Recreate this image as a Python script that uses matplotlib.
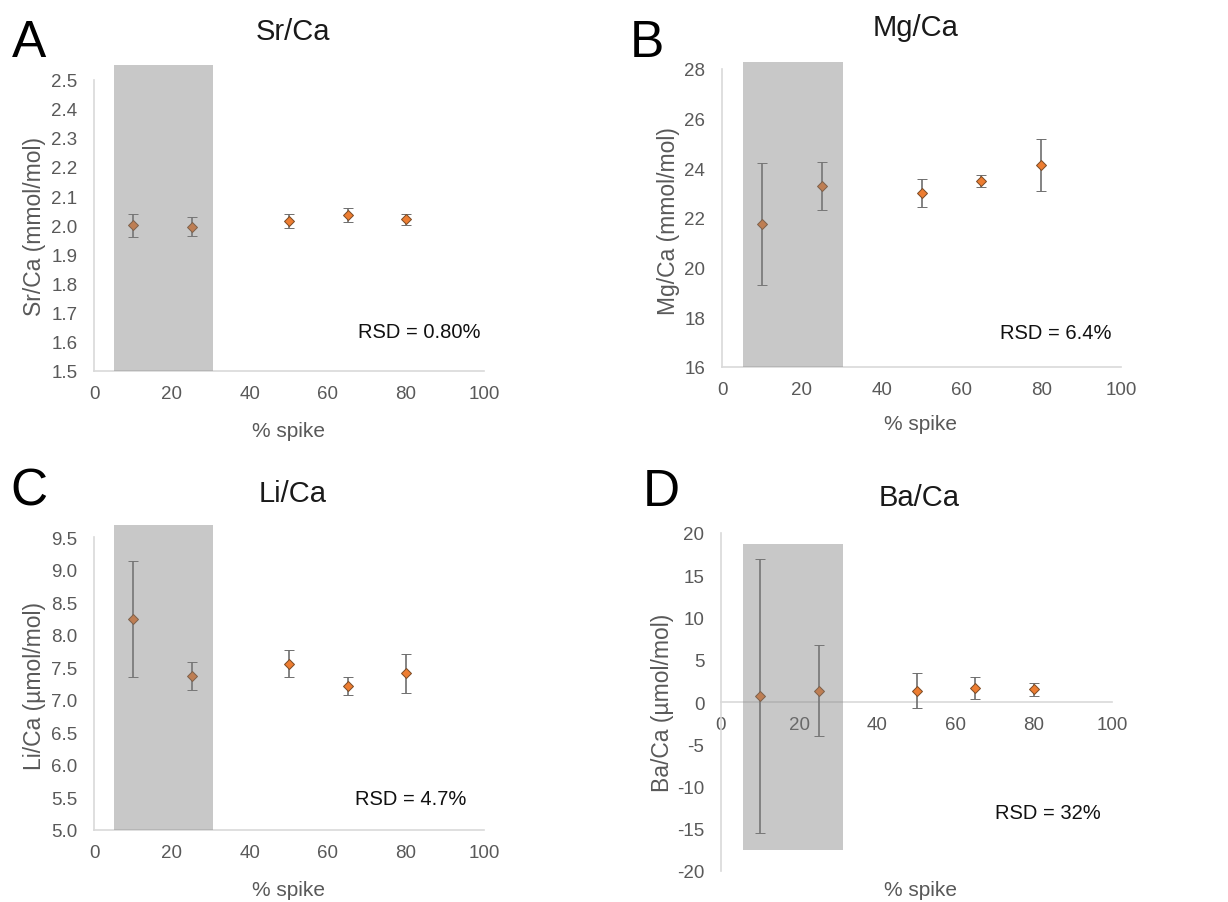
import matplotlib
matplotlib.use('Agg')
import matplotlib.pyplot as plt
from matplotlib.patches import Rectangle

plt.rcParams['font.family'] = ['Liberation Sans', 'DejaVu Sans']
plt.rcParams['axes.unicode_minus'] = False

W, H = 1228, 903

# data
spike = [10, 25, 50, 65, 80]

sr_ca = [2.000, 1.995, 2.015, 2.035, 2.020]
sr_err = [0.040, 0.032, 0.025, 0.025, 0.020]

mg_ca = [21.75, 23.30, 23.00, 23.50, 24.13]
mg_err = [2.45, 0.97, 0.55, 0.25, 1.03]

li_ca = [8.25, 7.37, 7.56, 7.21, 7.41]
li_err = [0.89, 0.21, 0.21, 0.14, 0.30]

ba_ca = [0.75, 1.34, 1.34, 1.66, 1.50]
ba_err = [16.2, 5.35, 2.10, 1.30, 0.80]

rsd_labels = ['RSD = 0.80%', 'RSD = 6.4%', 'RSD = 4.7%', 'RSD = 32%']
titles = ['Sr/Ca', 'Mg/Ca', 'Li/Ca', 'Ba/Ca']
ylabels = ['Sr/Ca (mmol/mol)', 'Mg/Ca (mmol/mol)', 'Li/Ca (µmol/mol)', 'Ba/Ca (µmol/mol)']
letters = ['A', 'B', 'C', 'D']

TICK_C = '#595959'
SPINE_C = '#d9d9d9'


def fx(x):
    return x / W


def fy(y):
    return 1 - y / H


fig = plt.figure(figsize=(W / 100, H / 100), dpi=100)


def panel(rect, y, err, ylim, ybounds, yticks, yfmt, shade_x, shade_y, rsd_xy, rsd):
    ax = fig.add_axes(rect)
    ax.set_xlim(0, 100)
    ax.set_ylim(*ylim)
    ax.errorbar(spike, y, yerr=err, fmt='D', ms=5.6, mfc='#ed7d31', mec='#7a4a25', mew=0.7,
                ecolor='#6e6e6e', elinewidth=1.2, capsize=3.5, capthick=1.2, zorder=3)
    ax.add_patch(Rectangle((shade_x[0], shade_y[0]), shade_x[1] - shade_x[0], shade_y[1] - shade_y[0],
                           facecolor='#808080', alpha=0.43, edgecolor='none', zorder=4, clip_on=False))
    for s in ['top', 'right']:
        ax.spines[s].set_visible(False)
    for s in ['left', 'bottom']:
        ax.spines[s].set_color(SPINE_C)
        ax.spines[s].set_linewidth(1.2)
    ax.spines['left'].set_bounds(*ybounds)
    ax.set_xticks([0, 20, 40, 60, 80, 100])
    ax.set_yticks(yticks)
    ax.set_yticklabels([yfmt.format(v) for v in yticks])
    ax.tick_params(length=0, labelsize=13.5, colors=TICK_C)
    ax.tick_params(axis='x', pad=10)
    ax.tick_params(axis='y', pad=12)
    ax.patch.set_alpha(0)
    ax.text(rsd_xy[0], rsd_xy[1], rsd, ha='right', va='center', fontsize=14.5, color='#111111')
    return ax


axA = panel([94 / W, fy(372), 390 / W, (372 - 66) / H], sr_ca, sr_err, (1.5, 2.55), (1.5, 2.5),
            [1.5 + 0.1 * i for i in range(11)], '{:.1f}', (5, 30.5), (1.5, 2.55), (99, 1.635), rsd_labels[0])
axB = panel([722 / W, fy(368), 399 / W, (368 - 63) / H], mg_ca, mg_err, (16, 28.28), (16, 28),
            [16, 18, 20, 22, 24, 26, 28], '{:d}', (5.3, 30.3), (16, 28.28), (97.5, 17.4), rsd_labels[1])
axC = panel([94 / W, fy(831), 390 / W, (831 - 526) / H], li_ca, li_err, (5, 9.69), (5, 9.5),
            [5 + 0.5 * i for i in range(10)], '{:.1f}', (5, 30.5), (5, 9.69), (95.4, 5.49), rsd_labels[2])
axD = panel([721 / W, fy(872), 391 / W, (872 - 534) / H], ba_ca, ba_err, (-20, 20), (-20, 20),
            [-20, -15, -10, -5, 0, 5, 10, 15, 20], '{:d}', (5.6, 31.3), (-17.5, 18.7), (97.2, -13.1), rsd_labels[3])
axD.spines['bottom'].set_position(('data', 0))

# titles, axis labels, panel letters
title_pos = [(293, 32), (916, 28), (293, 494), (919, 498)]
ylabel_pos = [(35, 227), (669, 221), (35, 686), (662, 703)]
xlabel_pos = [(288, 432), (921, 425), (288, 891), (921, 891)]
letter_pos = [(12, 57), (630, 57), (10, 506), (643, 506)]

for i in range(4):
    fig.text(fx(title_pos[i][0]), fy(title_pos[i][1]), titles[i], ha='center', va='center',
             fontsize=21, color='#1a1a1a')
    fig.text(fx(ylabel_pos[i][0]), fy(ylabel_pos[i][1]), ylabels[i], ha='center', va='center',
             rotation=90, fontsize=16.5, color=TICK_C)
    fig.text(fx(xlabel_pos[i][0]), fy(xlabel_pos[i][1]), '% spike', ha='center', va='center',
             fontsize=15, color=TICK_C)
    fig.text(fx(letter_pos[i][0]), fy(letter_pos[i][1]), letters[i], ha='left', va='baseline',
             fontsize=37, color='black')

fig.savefig('out.png', dpi=100, facecolor='white')
